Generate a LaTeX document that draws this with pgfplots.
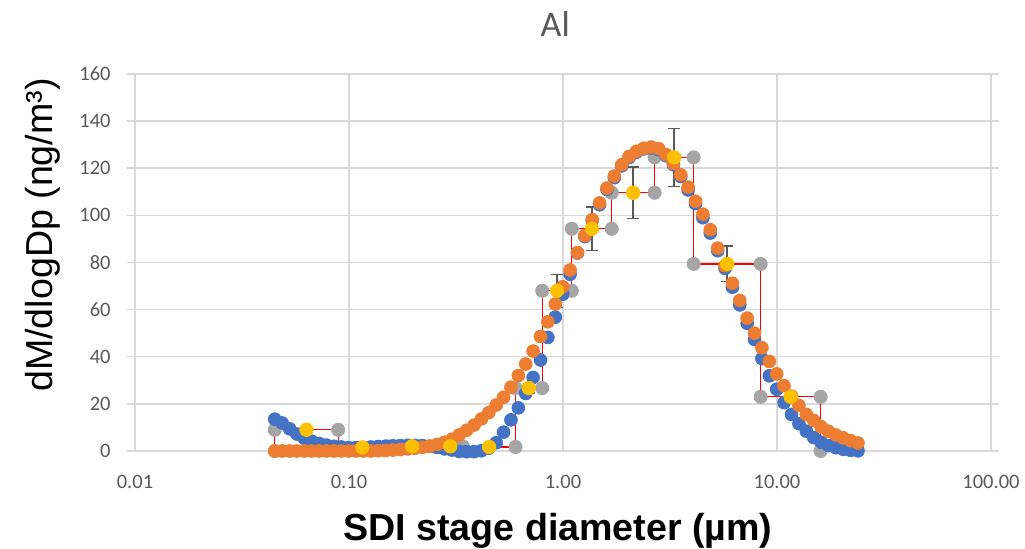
\documentclass[border=0pt]{standalone}
\usepackage{fontspec}
\setmainfont{Carlito}
\newfontfamily\arialf{Liberation Sans}
\usepackage{pgfplots}
\pgfplotsset{compat=1.18}
\usepackage{pgfplotstable}

\definecolor{blueS}{HTML}{4472C4}
\definecolor{orangeS}{HTML}{ED7D31}
\definecolor{grayS}{HTML}{A5A5A5}
\definecolor{yellowS}{HTML}{FFC000}
\definecolor{redS}{HTML}{FF0000}
\definecolor{gridc}{HTML}{D9D9D9}
\definecolor{txt}{HTML}{595959}

% fitted curve 1 (blue)
\pgfplotstableread{
x y
0.0450 13.5
0.0487 11.9
0.0528 9.4
0.0571 7.2
0.0618 5.4
0.0669 4.2
0.0725 3.2
0.0785 2.5
0.0850 2.0
0.0920 1.7
0.0996 1.4
0.1078 1.4
0.1167 1.5
0.1264 1.7
0.1368 1.9
0.1481 2.0
0.1604 2.2
0.1736 2.3
0.1880 2.4
0.2035 2.4
0.2203 2.3
0.2385 2.0
0.2583 1.5
0.2796 0.9
0.3027 0.4
0.3277 -0.2
0.3548 -0.3
0.3842 -0.3
0.4159 0.1
0.4503 1.2
0.4875 3.5
0.5278 8.0
0.5714 13.2
0.6186 18.3
0.6697 24.4
0.7251 31.2
0.7850 38.6
0.8499 48.2
0.9209 56.8
0.9970 66.5
1.0794 75.0
1.1686 84.0
1.2651 91.0
1.3697 97.8
1.4829 104.5
1.6054 111.0
1.7381 116.0
1.8817 121.0
2.0372 124.5
2.2055 126.8
2.3878 128.2
2.5851 128.6
2.7988 127.8
3.0300 125.3
3.2804 121.5
3.5515 116.5
3.8450 110.8
4.1627 105.0
4.5067 99.0
4.8791 92.5
5.2823 85.0
5.7188 77.5
6.1914 69.5
6.7030 62.0
7.2569 54.2
7.8566 47.3
8.5058 39.2
9.2087 31.9
9.9697 26.2
10.794 20.5
11.699 15.5
12.665 11.6
13.713 8.4
14.846 5.7
16.073 3.7
17.401 2.3
18.839 1.4
20.396 0.7
22.081 0.3
23.907 0.05
}\bluedata

% fitted curve 2 (orange)
\pgfplotstableread{
x y
0.0450 0
0.0487 0
0.0528 0
0.0571 0
0.0618 0
0.0669 0
0.0725 0
0.0785 0
0.0850 0
0.0920 0
0.0996 0
0.1078 0
0.1167 0
0.1264 0
0.1368 0.1
0.1481 0.2
0.1604 0.4
0.1736 0.6
0.1880 0.9
0.2035 1.2
0.2203 1.6
0.2385 2.1
0.2583 2.8
0.2796 3.7
0.3027 5.0
0.3277 6.8
0.3548 8.8
0.3842 11.0
0.4159 13.6
0.4503 16.3
0.4875 19.5
0.5278 22.8
0.5714 27.1
0.6186 32.0
0.6697 36.9
0.7251 42.4
0.7850 48.6
0.8499 54.8
0.9209 62.4
0.9970 69.7
1.0794 76.8
1.1686 84.2
1.2651 91.4
1.3697 98.2
1.4829 105.3
1.6054 111.6
1.7381 116.7
1.8817 121.5
2.0372 125.0
2.2055 127.2
2.3878 128.5
2.5851 129.0
2.7988 128.3
3.0300 125.8
3.2804 122.0
3.5515 117.2
3.8450 112.0
4.1627 106.0
4.5067 100.5
4.8791 93.9
5.2823 86.1
5.7188 78.6
6.1914 71.2
6.7030 63.9
7.2569 56.4
7.8566 50.0
8.5058 43.8
9.2087 38.0
9.9697 32.7
10.794 27.7
11.699 23.3
12.665 19.3
13.713 15.5
14.846 13.0
16.073 10.3
17.401 8.4
18.839 6.8
20.396 5.6
22.081 4.4
23.907 3.4
}\orangedata

% SDI stages as steps
\pgfplotstableread{
x y
0.045 0
0.045 9.0
0.089 9.0
0.089 1.5
0.15 1.5
0.15 2.0
0.26 2.0
0.26 2.0
0.34 2.0
0.34 1.7
0.60 1.7
0.60 26.7
0.80 26.7
0.80 68.0
1.10 68.0
1.10 94.3
1.69 94.3
1.69 109.6
2.68 109.6
2.68 124.6
4.08 124.6
4.08 79.4
8.39 79.4
8.39 23.0
16.0 23.0
16.0 0
}\graydata

% stage midpoints
\pgfplotstableread{
x y e
0.0633 9.0 0
0.1155 1.5 0
0.1975 2.0 0
0.2973 2.0 0
0.4517 1.7 0
0.6928 26.7 2
0.9381 68.0 7
1.3635 94.3 9.3
2.1283 109.6 11
3.3068 124.6 12.3
5.8507 79.4 7.5
11.586 23.0 0
}\middata

\begin{document}
\begin{tikzpicture}
\useasboundingbox (-67.5pt,-49pt) rectangle (445pt,225.5pt);
\begin{axis}[
  at={(0,0)}, anchor=south west,
  scale only axis, width=428pt, height=188.5pt,
  xmode=log, xmin=0.01, xmax=100, ymin=0, ymax=160,
  xtick={0.01,0.1,1,10,100},
  xticklabels={0.01,0.10,1.00,10.00,100.00},
  ytick={0,20,...,160},
  xminorticks=false,
  grid=major,
  major grid style={draw=gridc, line width=0.75pt},
  axis line style={draw=gridc, line width=0.75pt},
  tick align=outside,
  major tick length=4pt,
  xtick style={draw=none},
  ytick style={draw=gridc, line width=0.75pt},
  tick label style={font=\fontsize{10.25}{12}\selectfont, text=txt},
  /pgf/number format/assume math mode=true,
  xticklabel style={anchor=north, inner sep=0pt, yshift=-7.7pt},
  yticklabel style={anchor=east, inner sep=0pt, xshift=-8pt},
  title={Al},
  title style={font=\fontsize{18}{21}\selectfont, text=txt, at={(axis description cs:0.491,1.101)}, anchor=center},
  xlabel={SDI stage diameter (µm)},
  xlabel style={font=\arialf\bfseries\fontsize{18.8}{22}\selectfont, at={(axis description cs:0.494,-0.212)}, anchor=center},
  ylabel={dM/dlogDp (ng/m³)},
  ylabel style={font=\arialf\fontsize{18.8}{22}\selectfont, at={(axis description cs:-0.1075,0.573)}, anchor=center},
  clip=false,
]
\addplot[redS, line width=0.6pt, no marks] table[x=x, y=y] {\graydata};
\addplot[only marks, color=grayS, mark=*, mark size=3.3pt] table[x=x, y=y] {\graydata};
\addplot[only marks, color=blueS, mark=*, mark size=3.2pt] table[x=x, y=y] {\bluedata};
\addplot[only marks, color=orangeS, mark=*, mark size=3.2pt] table[x=x, y=y] {\orangedata};
\addplot[only marks, color=yellowS, mark=*, mark size=3.3pt,
  error bars/.cd, y dir=both, y explicit,
  error bar style={line width=0.75pt, draw=txt},
  error mark options={rotate=90, mark size=3pt, line width=0.75pt, draw=txt}]
  table[x=x, y=y, y error=e] {\middata};
\addplot[only marks, color=yellowS, mark=*, mark size=3.3pt] table[x=x, y=y] {\middata};
\end{axis}
\end{tikzpicture}
\end{document}
